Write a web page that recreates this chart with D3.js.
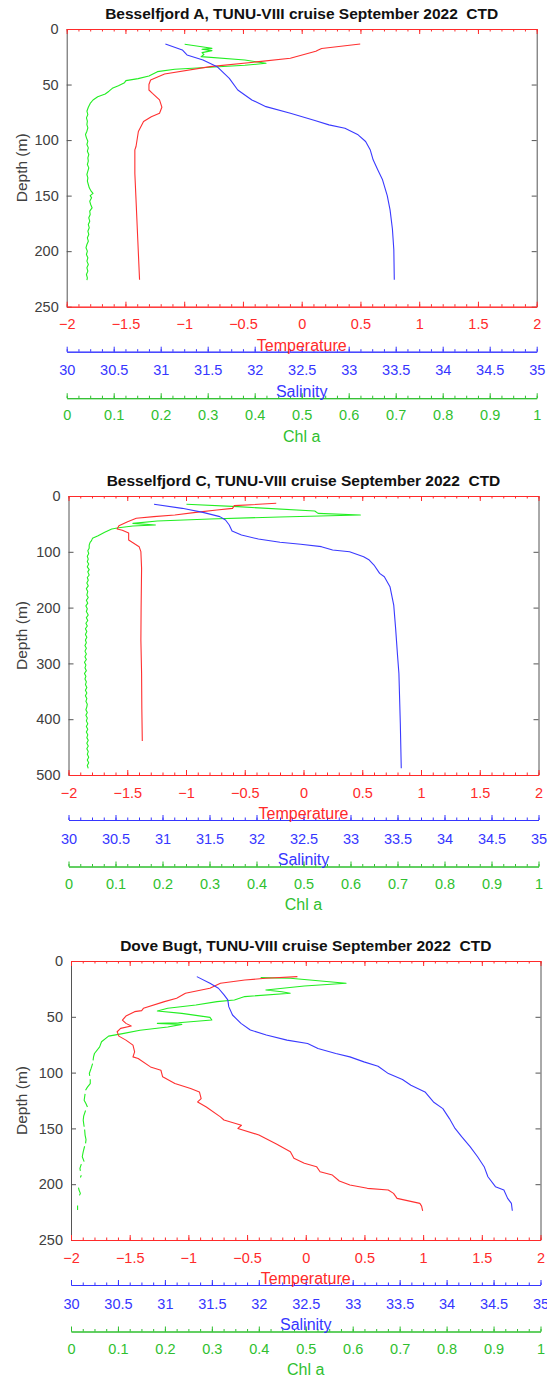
<!DOCTYPE html>
<html>
<head>
<meta charset="utf-8">
<script src="https://cdn.jsdelivr.net/npm/d3@7"></script>
<style>
  body { margin: 0; background: #fff; }
  svg { display: block; font-family: "Liberation Sans", Arial, Helvetica, sans-serif; }
</style>
</head>
<body>
<div id="chart"></div>
<script>
// ---- data: [depth (m), value] ----
const titles = [
    "Besselfjord A, TUNU-VIII cruise September 2022  CTD",
    "Besselfjord C, TUNU-VIII cruise September 2022  CTD",
    "Dove Bugt, TUNU-VIII cruise September 2022  CTD"
];

const tempTicks = [-2, -1.5, -1, -0.5, 0, 0.5, 1, 1.5, 2];
const salTicks = [30, 30.5, 31, 31.5, 32, 32.5, 33, 33.5, 34, 34.5, 35];
const chlTicks = [0, 0.1, 0.2, 0.3, 0.4, 0.5, 0.6, 0.7, 0.8, 0.9, 1];
const depthTicks250 = [0, 50, 100, 150, 200, 250];
const depthTicks500 = [0, 100, 200, 300, 400, 500];

// Besselfjord A
const tempA = [[13.5,0.498],[17.5,0.17],[18.9,0.141],[20,0.12],[26.4,-0.097],[29.4,-0.364],[33.9,-0.78],[40.5,-1.167],
    [45.9,-1.286],[50,-1.30],[54.9,-1.30],[58,-1.27],[63.8,-1.21],[70.4,-1.19],[75.8,-1.21],[79,-1.28],[83.3,-1.346],
    [92.3,-1.39],[105.8,-1.41],[108.8,-1.42],[130,-1.42],[153.8,-1.41],[190,-1.395],[225.7,-1.38]];
const salA = [[13.5,31.05],[18.9,31.23],[23.4,31.28],[27.9,31.45],[33.9,31.60],[44.4,31.73],[54.9,31.82],[63.9,31.97],
    [69.9,32.12],[75.9,32.38],[82.4,32.64],[86.3,32.79],[89.3,32.96],[95.3,33.10],[101.3,33.18],[109,33.23],[117.8,33.26],
    [127,33.31],[135.8,33.36],[150,33.41],[162.8,33.44],[180,33.465],[198.8,33.48],[225.8,33.485]];
const chlA = [[13.8,0.251],[17.4,0.309],[18.3,0.288],[19.5,0.309],[21.3,0.288],[23,0.292],[24.9,0.286],[27.9,0.379],
    [30.9,0.424],[32.7,0.379],[34.5,0.305],[36.3,0.230],[38.4,0.193],[42.3,0.175],[44.7,0.152],[46.5,0.126],[48.3,0.123],
    [51,0.110],[53.4,0.097],[56,0.090],[58.5,0.082],[61,0.066],[63.9,0.056],[67,0.050],[70.5,0.046],[74,0.043],[77,0.045],
    [80,0.042],[83,0.044],[86,0.043],[89,0.045],[92,0.043],[95,0.040],[98,0.042],[101,0.045],[104,0.043],[107,0.046],
    [110,0.044],[113,0.047],[116,0.045],[119,0.046],[122,0.044],[125,0.047],[128,0.045],[131,0.043],[134,0.045],[137,0.044],
    [140,0.046],[143,0.048],[146,0.052],[148,0.056],[150,0.050],[152,0.053],[155,0.049],[158,0.051],[161,0.054],[164,0.049],
    [167,0.050],[170,0.047],[173,0.049],[176,0.046],[179,0.048],[182,0.045],[185,0.047],[188,0.044],[191,0.046],[194,0.043],
    [197,0.041],[200,0.044],[203,0.042],[206,0.045],[209,0.043],[212,0.046],[215,0.043],[218,0.045],[221,0.042],[224,0.044],
    [226,0.043]];

// Besselfjord C
const tempC = [[13.1,-0.232],[17.3,-0.589],[22.1,-0.604],[25.1,-0.738],[29.3,-0.917],[34.0,-1.095],[37.0,-1.274],
    [40.0,-1.423],[46.0,-1.497],[53.2,-1.571],[59.1,-1.586],[61.5,-1.542],[66.3,-1.488],[78.8,-1.488],[83.0,-1.458],
    [90.8,-1.399],[99.8,-1.384],[129.7,-1.378],[200,-1.382],[258,-1.384],[318,-1.378],[380,-1.376],[439,-1.372]];
const salC = [[14.9,30.91],[22.1,31.21],[29.3,31.43],[37.0,31.61],[43.0,31.67],[52.0,31.71],[62.7,31.74],[69.9,31.84],
    [77.1,32.02],[83.0,32.25],[86.6,32.47],[90.8,32.69],[96.8,32.81],[99.8,32.99],[108.8,33.14],[114.7,33.20],
    [123.7,33.25],[138.6,33.31],[144.6,33.36],[162.6,33.42],[195.5,33.46],[237.3,33.48],[285,33.50],[318,33.515],
    [408,33.53],[488,33.54]];
const chlC = [[14.9,0.251],[19.1,0.36],[26.9,0.524],[31.1,0.531],[34.0,0.621],[37.6,0.449],[41.2,0.301],[44.8,0.189],
    [49.0,0.137],[52.0,0.185],[53.8,0.137],[56.8,0.107],[59.1,0.092],[65.1,0.077],[71.1,0.063],[75.9,0.051],[80,0.049],
    [83.0,0.046],[88,0.044],[93.8,0.044],[98,0.041],[103,0.043],[108,0.040],[113,0.042],[117.7,0.040],[122,0.043],
    [127,0.040],[132,0.044],[136,0.041],[141.6,0.044],[146,0.040],[151,0.042],[156,0.039],[161,0.042],[166,0.038],
    [171,0.041],[177.5,0.039],[182,0.042],[187,0.038],[192,0.041],[197,0.037],[202,0.040],[207,0.038],[213.3,0.042],
    [218,0.038],[223,0.041],[228,0.037],[233,0.040],[238,0.036],[243,0.039],[248,0.036],[253,0.039],[258,0.036],[263,0.038],
    [268,0.035],[273,0.038],[278,0.035],[283,0.038],[288,0.035],[293,0.038],[298,0.034],[303,0.037],[308,0.035],[313,0.038],
    [318,0.034],[323,0.037],[328,0.035],[333,0.038],[338,0.036],[343,0.039],[348,0.036],[353,0.039],[358,0.036],[363,0.039],
    [368,0.037],[373,0.040],[377.9,0.039],[383,0.037],[388,0.040],[393,0.037],[398,0.040],[403,0.038],[408,0.041],[413,0.038],
    [418,0.041],[423,0.038],[428,0.041],[433,0.039],[437.6,0.042],[443,0.039],[448,0.042],[453,0.039],[458,0.042],[463,0.040],
    [468,0.043],[473,0.040],[478,0.043],[483,0.040],[488,0.042]];

// Dove Bugt
const tempD = [[14.0,-0.071],[15.5,-0.340],[17.0,-0.519],[19.9,-0.727],[24.4,-0.817],[28.9,-1.025],[33.4,-1.100],
    [36.4,-1.204],[42.4,-1.383],[44.5,-1.398],[45.4,-1.458],[49.3,-1.532],[52.9,-1.562],[55.9,-1.532],[58.3,-1.487],
    [60.4,-1.577],[63.4,-1.607],[67.3,-1.592],[70.9,-1.532],[75.4,-1.472],[81.4,-1.458],[85.9,-1.472],[87.4,-1.428],
    [94.9,-1.323],[97.9,-1.234],[103.8,-1.219],[109.8,-1.115],[114.3,-0.981],[117.3,-0.906],[123.3,-0.891],[126.3,-0.921],
    [130.8,-0.847],[139.7,-0.727],[142.5,-0.697],[147.2,-0.548],[150,-0.578],[155.9,-0.399],[164,-0.25],[170.9,-0.131],
    [176.8,-0.101],[181.3,-0.012],[184.3,0.092],[188.8,0.122],[191.8,0.227],[197.1,0.286],[200.7,0.376],[203.7,0.525],
    [205.2,0.703],[208.2,0.748],[212.7,0.778],[217.2,0.972],[219.6,0.987],[223.8,0.996]];
const salD = [[14.0,31.34],[19.9,31.48],[24.4,31.57],[30.4,31.63],[34.9,31.67],[40.9,31.68],[48.4,31.72],[55.9,31.81],
    [61.8,31.91],[66.3,32.08],[70.9,32.30],[73.9,32.52],[78.4,32.63],[82.9,32.82],[85.9,32.97],[90.4,33.12],[94.3,33.27],
    [100.9,33.38],[106.2,33.53],[111.3,33.62],[117.3,33.77],[126.3,33.86],[132.3,33.96],[141.2,34.03],[150,34.09],
    [157.4,34.16],[166.4,34.25],[175.4,34.33],[184.3,34.40],[193.3,34.44],[202.2,34.52],[205.2,34.61],[212.7,34.65],
    [217.2,34.69],[223.8,34.70]];
const chlD = [[14.9,0.404],[15.5,0.467],[19.9,0.586],[22.4,0.497],[26.0,0.415],[27.5,0.449],[28.9,0.467],[31.9,0.370],
    [34.9,0.348],[36.4,0.311],[39.4,0.266],[42.4,0.206],[44.8,0.184],[46.9,0.236],[50.5,0.296],[52.9,0.300],[55.3,0.229],
    [55.9,0.184],[56.8,0.236],[59.1,0.206],[62.1,0.147],[65.1,0.110],[67.3,0.080],[72.4,0.065],[76.9,0.061],[82.9,0.050],
    [86,0.048],[89,0.047],[90,null],[92,0.046],[96,0.043],[100.8,0.039],[103,0.040],[104,null],[106,0.041],[109.8,0.041],
    [113,0.035],[115.8,0.031],[117,null],[119,0.030],[124.8,0.028],[128,0.032],[130.8,0.035],[132,null],[134,0.031],
    [139,0.027],[142.7,0.026],[148.5,0.028],[150,null],[151,0.029],[156,0.030],[160,0.032],[163.4,0.031],[165,null],
    [166,0.029],[171,0.026],[175.4,0.024],[179.8,0.028],[181,null],[182,0.022],[185.8,0.019],[188,0.020],[190,null],
    [192,0.022],[194,0.020],[198,null],[203,0.016],[205.2,0.017],[208.2,0.020],[210,0.018],[214,null],[219,0.014],
    [223.2,0.014]];

// ---- layout ----
const W = 547, H = 1380;
const panels = [
    { title: titles[0], left: 66.7, right: 536.7, top: 29, bottom: 306.7, depthMax: 250, depthTicks: depthTicks250,
      temp: tempA, sal: salA, chl: chlA },
    { title: titles[1], left: 68.5, right: 538.5, top: 496, bottom: 775, depthMax: 500, depthTicks: depthTicks500,
      temp: tempC, sal: salC, chl: chlC },
    { title: titles[2], left: 71, right: 540.5, top: 961, bottom: 1240, depthMax: 250, depthTicks: depthTicks250,
      temp: tempD, sal: salD, chl: chlD }
];

const red = "#ff2a2a", blue = "#3636ff", green = "#2fbf2f";
const lineRed = "#ff3030", lineBlue = "#3a3aff", lineGreen = "#22ee22";
const gray = "#404040";

const svg = d3.select("#chart").append("svg")
    .attr("width", W)
    .attr("height", H);

// horizontal axis with major/minor ticks pointing up (dir -1) or down (dir 1)
function hTicks(g, scale, majors, step, color, dir) {
    let minors = d3.range(scale.domain()[0], scale.domain()[1] + step / 2, step);
    let mk = dir > 0 ? d3.axisBottom : d3.axisTop;
    g.append("g").call(mk(scale).tickValues(minors).tickSize(2.5).tickSizeOuter(0).tickFormat(""));
    g.append("g").call(mk(scale).tickValues(majors).tickSize(5).tickSizeOuter(0).tickFormat(""));
    g.selectAll("path, line").attr("stroke", color).attr("stroke-width", 1);
}

function tickLabels(g, scale, majors, color) {
    g.call(d3.axisBottom(scale).tickValues(majors).tickSize(0).tickFormat(d3.format("")));
    g.select(".domain").remove();
    g.selectAll("text")
        .attr("y", 0)
        .attr("dy", "0.35em")
        .attr("fill", color)
        .attr("font-size", 14.5)
        .attr("font-family", null);
}

function drawPanel(p) {
    let y = d3.scaleLinear().domain([0, p.depthMax]).range([p.top, p.bottom]);
    let xT = d3.scaleLinear().domain([-2, 2]).range([p.left, p.right]);
    let xS = d3.scaleLinear().domain([30, 35]).range([p.left, p.right]);
    let xC = d3.scaleLinear().domain([0, 1]).range([p.left, p.right]);
    let cx = (p.left + p.right) / 2;

    // title (keep the double space before CTD)
    svg.append("text")
        .attr("x", cx)
        .attr("y", p.top - 15)
        .attr("dy", "0.35em")
        .attr("text-anchor", "middle")
        .attr("font-size", 15.5)
        .attr("font-weight", "bold")
        .attr("fill", "#111")
        .style("white-space", "pre")
        .text(p.title);

    // depth axis, left side with labels, right side ticks only
    let gl = svg.append("g").attr("transform", "translate(" + p.left + ",0)");
    gl.call(d3.axisRight(y).tickValues(p.depthTicks).tickSize(5).tickSizeOuter(0).tickFormat(""));
    gl.selectAll("path, line").attr("stroke", "#555");
    let gll = svg.append("g").attr("transform", "translate(" + p.left + ",0)");
    gll.call(d3.axisLeft(y).tickValues(p.depthTicks).tickSize(0).tickPadding(8));
    gll.select(".domain").remove();
    gll.selectAll("text").attr("font-size", 14.5).attr("fill", gray).attr("font-family", null);

    let gr = svg.append("g").attr("transform", "translate(" + p.right + ",0)");
    gr.call(d3.axisLeft(y).tickValues(p.depthTicks).tickSize(5).tickSizeOuter(0).tickFormat(""));
    gr.selectAll("path, line").attr("stroke", "#555");

    svg.append("text")
        .attr("transform", "translate(22," + (p.top + p.bottom) / 2 + ") rotate(-90)")
        .attr("dy", "0.35em")
        .attr("text-anchor", "middle")
        .attr("font-size", 15.5)
        .attr("fill", gray)
        .text("Depth (m)");

    // temperature: top and bottom borders
    hTicks(svg.append("g").attr("transform", "translate(0," + p.top + ")"), xT, tempTicks, 0.1, red, 1);
    hTicks(svg.append("g").attr("transform", "translate(0," + p.bottom + ")"), xT, tempTicks, 0.1, red, -1);
    tickLabels(svg.append("g").attr("transform", "translate(0," + (p.bottom + 17.5) + ")"), xT, tempTicks, red);

    // salinity axis
    hTicks(svg.append("g").attr("transform", "translate(0," + (p.bottom + 45) + ")"), xS, salTicks, 0.125, blue, -1);
    tickLabels(svg.append("g").attr("transform", "translate(0," + (p.bottom + 63.5) + ")"), xS, salTicks, blue);

    // chl axis
    hTicks(svg.append("g").attr("transform", "translate(0," + (p.bottom + 91.5) + ")"), xC, chlTicks, 0.025, green, -1);
    tickLabels(svg.append("g").attr("transform", "translate(0," + (p.bottom + 108.5) + ")"), xC, chlTicks, green);

    // axis titles
    let names = [["Temperature", red, 38.5], ["Salinity", blue, 84.5], ["Chl a", green, 129.5]];
    names.forEach(function(n) {
        svg.append("text")
            .attr("x", cx)
            .attr("y", p.bottom + n[2])
            .attr("dy", "0.35em")
            .attr("text-anchor", "middle")
            .attr("font-size", 16)
            .attr("fill", n[1])
            .text(n[0]);
    });

    // profiles
    let series = [[p.chl, xC, lineGreen], [p.temp, xT, lineRed], [p.sal, xS, lineBlue]];
    series.forEach(function(s) {
        let line = d3.line()
            .defined(function(d) { return d[1] != null; })
            .x(function(d) { return s[1](d[1]); })
            .y(function(d) { return y(d[0]); });
        svg.append("path")
            .datum(s[0])
            .attr("d", line)
            .attr("fill", "none")
            .attr("stroke", s[2])
            .attr("stroke-width", 1.1)
            .attr("stroke-linejoin", "round");
    });
}

panels.forEach(drawPanel);
</script>
</body>
</html>
